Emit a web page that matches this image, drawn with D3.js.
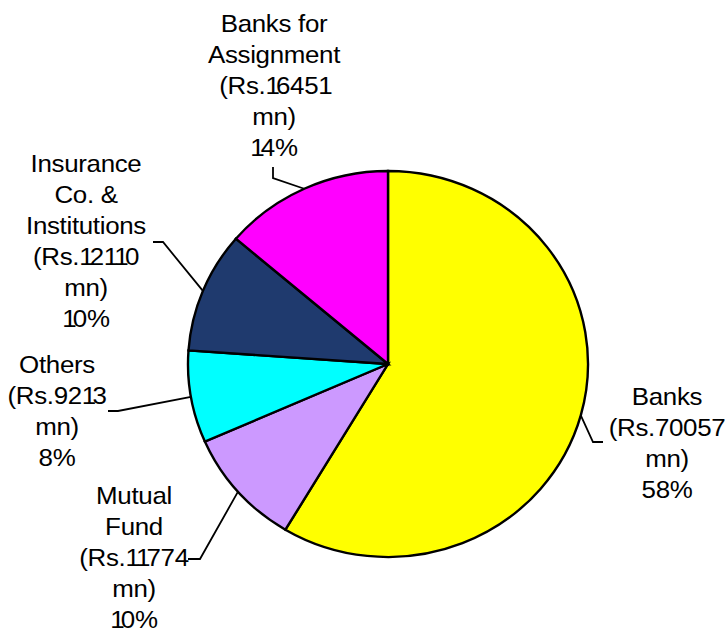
<!DOCTYPE html>
<meta charset="utf-8">
<style>
body { margin: 0; background: #fff; }
.label { font-family: "Liberation Sans", Arial, sans-serif; font-size: 24px; fill: #000; letter-spacing: -0.3px; }
.one { letter-spacing: -3.6px; }
.leader { fill: none; stroke: #000; stroke-width: 1.8px; }
</style>
<body>
<script src="https://cdn.jsdelivr.net/npm/d3@7"></script>
<script>

// data, clockwise from 12 o'clock
var names = [["Banks"], ["Mutual", "Fund"], ["Others"], ["Insurance", "Co. &", "Institutions"], ["Banks for", "Assignment"]];
var amounts = [70057, 11774, 9213, 12110, 16451];
var percents = ["58%", "10%", "8%", "10%", "14%"];
var colors = ["#ffff00", "#cc99ff", "#00ffff", "#1f3a6e", "#ff00ff"];

// label layout (centre x, first baseline) and leader line bends
var labelPos = [[667, 405], [134, 504], [57, 373], [86, 172], [274, 32]];
var leaderBend = [[[603, 442], [593, 442]], [[188, 559], [200, 559]], [[108, 411], [118, 411]], [[153, 242], [163, 242]], [[273, 167], [273, 178]]];

var width = 727, height = 633;
var cx = 388, cy = 364, rx = 200, ry = 193;

var svg = d3.select("body").append("svg")
    .attr("width", width)
    .attr("height", height);

var pie = d3.pie().sort(null).value(function(d) { return d; });
var arcs = pie(amounts);

var arc = d3.arc().innerRadius(0).outerRadius(rx);

var g = svg.append("g")
    .attr("transform", "translate(" + cx + "," + cy + ") scale(1," + (ry / rx) + ")");

g.selectAll("path")
    .data(arcs)
  .enter().append("path")
    .attr("d", arc)
    .attr("fill", function(d, i) { return colors[i]; })
    .attr("stroke", "#000")
    .attr("stroke-width", 2.4);

// leader lines, ending on the rim at the middle of each slice
arcs.forEach(function(d, i) {
  var a = (d.startAngle + d.endAngle) / 2;
  var end = [cx + rx * Math.sin(a), cy - ry * Math.cos(a)];
  var pts = leaderBend[i].concat([end]);
  svg.append("path")
      .attr("class", "leader")
      .attr("d", d3.line()(pts));
});

// labels (slightly stretched, with the narrow "1" of the original)
arcs.forEach(function(d, i) {
  var lines = names[i].concat(["(Rs." + amounts[i], "mn)", percents[i]]);
  var t = svg.append("text")
      .attr("class", "label")
      .attr("text-anchor", "middle")
      .attr("transform", "translate(" + labelPos[i][0] + "," + labelPos[i][1] + ") scale(1.08,1)");
  lines.forEach(function(l, j) {
    var line = t.append("tspan")
        .attr("x", 0)
        .attr("dy", j === 0 ? 0 : 31);
    var runs = l.match(/1|[^1]+/g);
    runs.forEach(function(r) {
      line.append("tspan")
          .attr("class", r === "1" ? "one" : null)
          .text(r);
    });
  });
});

</script>
</body>
